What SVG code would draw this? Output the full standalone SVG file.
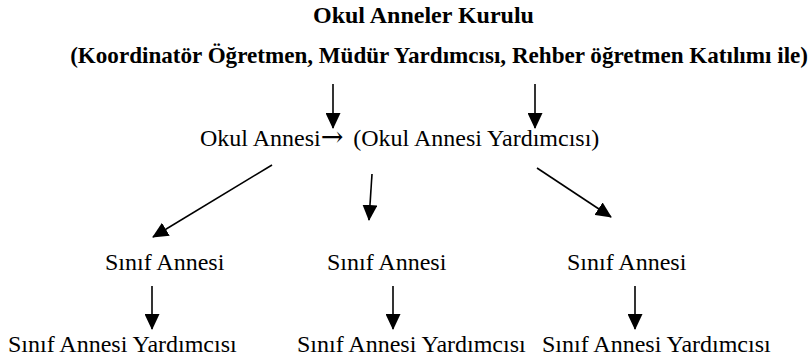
<svg xmlns="http://www.w3.org/2000/svg" width="811" height="362" viewBox="0 0 811 362" font-family="'Liberation Serif', 'Times New Roman', Tinos, 'DejaVu Serif', serif">
<defs>
<marker id="ah" markerWidth="16" markerHeight="15" refX="15" refY="7.5" orient="auto" markerUnits="userSpaceOnUse">
<path d="M0,0 L16,7.5 L0,15 Z" fill="#000"/>
</marker>
<style>
text{fill:#000;font-size:24px}
.b{font-weight:bold}
.s{font-size:23.1px}
.ar{font-family:"DejaVu Serif",serif;font-size:27px}
.c{stroke:#000;stroke-width:1.6;fill:none}
</style>
</defs>
<rect width="811" height="362" fill="#fff"/>
<g id="kurul">
<text class="b" x="313" y="23">Okul Anneler Kurulu</text>
<text class="b s" x="808" y="63" text-anchor="end">(Koordinatör Öğretmen, Müdür Yardımcısı, Rehber öğretmen Katılımı ile)</text>
</g>
<g id="okulannesi">
<text x="200" y="146">Okul Annesi<tspan class="ar">→</tspan><tspan dx="4"> (Okul Annesi Yardımcısı)</tspan></text>
</g>
<g id="sinif1"><text x="105" y="270">Sınıf Annesi</text></g>
<g id="sinif2"><text x="327" y="270">Sınıf Annesi</text></g>
<g id="sinif3"><text x="567" y="270">Sınıf Annesi</text></g>
<g id="yard1"><text x="8" y="352">Sınıf Annesi Yardımcısı</text></g>
<g id="yard2"><text x="297" y="352">Sınıf Annesi Yardımcısı</text></g>
<g id="yard3"><text x="542" y="352">Sınıf Annesi Yardımcısı</text></g>
<g id="connectors">
<line class="c" x1="333" y1="84" x2="333" y2="128" marker-end="url(#ah)"/>
<line class="c" x1="535" y1="84" x2="535" y2="128" marker-end="url(#ah)"/>
<line class="c" x1="272" y1="165" x2="153" y2="237" marker-end="url(#ah)"/>
<line class="c" x1="372" y1="174" x2="369" y2="220" marker-end="url(#ah)"/>
<line class="c" x1="537" y1="168" x2="611" y2="217" marker-end="url(#ah)"/>
<line class="c" x1="152" y1="286" x2="152" y2="329" marker-end="url(#ah)"/>
<line class="c" x1="393" y1="286" x2="393" y2="329" marker-end="url(#ah)"/>
<line class="c" x1="635" y1="286" x2="635" y2="329" marker-end="url(#ah)"/>
</g>
</svg>
